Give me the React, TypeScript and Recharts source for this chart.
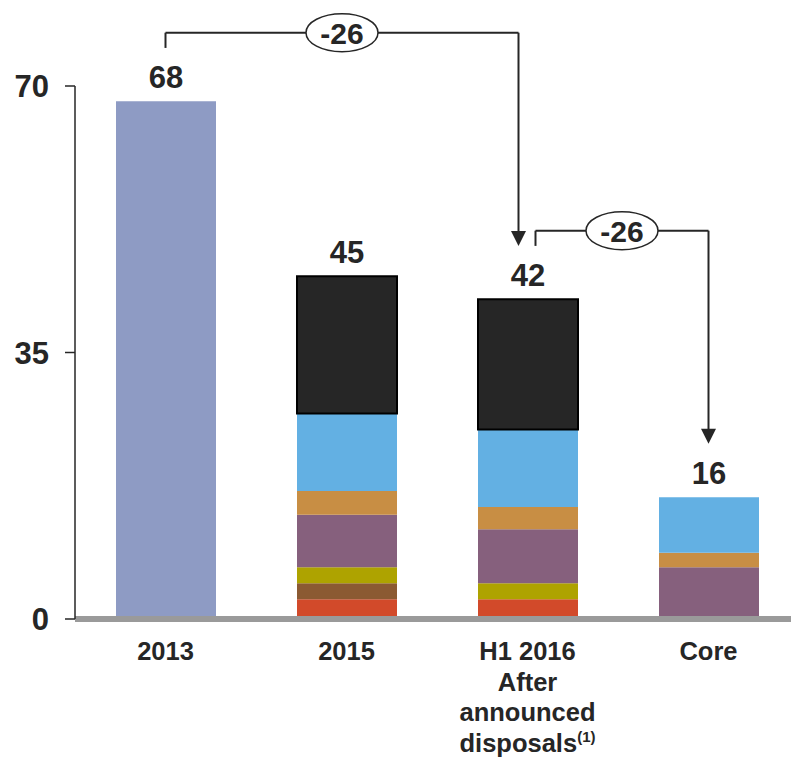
import React from 'react';
import { BarChart, Bar, XAxis, YAxis, ReferenceLine, LabelList } from 'recharts';

// Categories and stacked segment values (bottom to top)
const categories = ['2013', '2015', 'H1 2016', 'Core'];
const historic = [68, 0, 0, 0];
const segRed = [0, 2.6, 2.6, 0];
const segBrown = [0, 2.1, 0, 0];
const segOlive = [0, 2.1, 2.1, 0];
const segPurple = [0, 6.9, 7.1, 6.8];
const segTan = [0, 3.1, 2.9, 1.9];
const segBlue = [0, 10.2, 10.2, 7.3];
const segBlack = [0, 18.0, 17.1, 0];

const yTicks = [0, 35, 70];

// Multi-line category captions
const tickLines: string[][] = [
  ['2013'],
  ['2015'],
  ['H1 2016', 'After', 'announced', 'disposals'],
  ['Core'],
];
const tickNotes = ['', '', '(1)', ''];

// Bridges between category totals
const bridgeFrom = ['2013', 'H1 2016'];
const bridgeTo = ['H1 2016', 'Core'];

const FONT = '"Liberation Sans", Arial, Helvetica, sans-serif';
const INK = '#262626';

const series = [
  { key: 'historic', values: historic, fill: '#8E9BC4' },
  { key: 'red', values: segRed, fill: '#D24A2A' },
  { key: 'brown', values: segBrown, fill: '#8B5A32' },
  { key: 'olive', values: segOlive, fill: '#AEA300' },
  { key: 'purple', values: segPurple, fill: '#86607D' },
  { key: 'tan', values: segTan, fill: '#C88E44' },
  { key: 'blue', values: segBlue, fill: '#63B0E3' },
  { key: 'black', values: segBlack, fill: '#262626', stroke: '#000000' },
];

const totals = categories.map((_, i) =>
  series.reduce((sum, s) => sum + s.values[i], 0)
);

const topKeyAt = (i: number) => {
  for (let k = series.length - 1; k >= 0; k--) {
    if (series[k].values[i] > 0) return series[k].key;
  }
  return '';
};

// Each row carries its segment values plus the stack total on its top segment
const data = categories.map((name, i) => {
  const row: Record<string, any> = { name };
  const top = topKeyAt(i);
  series.forEach((s) => {
    row[s.key] = s.values[i];
    row[`${s.key}Total`] = s.key === top ? Math.round(totals[i]) : null;
  });
  return row;
});

// Gaps (in value units) between totals and bridge parts
const stemGap = 7;
const levelGap = 9;

const TotalLabel = (props: any) => {
  const { x, y, width, value } = props;
  if (value === null || value === undefined || value === '') return null;
  return (
    <text
      x={Number(x) + Number(width) / 2}
      y={Number(y) - 13}
      textAnchor="middle"
      fontSize={31}
      fontWeight="bold"
      fill={INK}
      fontFamily={FONT}
    >
      {value}
    </text>
  );
};

const CategoryTick = (props: any) => {
  const { x, y, payload } = props;
  const idx = categories.indexOf(payload.value);
  const lines = tickLines[idx] || [String(payload.value)];
  const note = tickNotes[idx];
  return (
    <text
      x={x}
      y={y + 41}
      textAnchor="middle"
      fontSize={25.5}
      fontWeight="bold"
      fill={INK}
      fontFamily={FONT}
    >
      {lines.map((ln, i) => (
        <tspan key={i} x={x} dy={i === 0 ? 0 : 30.5}>
          {ln}
          {i === lines.length - 1 && note ? (
            <tspan fontSize={15} dy={-10}>
              {note}
            </tspan>
          ) : null}
        </tspan>
      ))}
    </text>
  );
};

const SpanShape = (dxStart: number, dxEnd: number, text: string) => (props: any) => {
  const { x1, y1, x2 } = props;
  const a = Number(x1) + dxStart;
  const b = Number(x2) + dxEnd;
  const mid = (a + b) / 2;
  return (
    <g>
      <line x1={a} y1={y1} x2={b} y2={y1} stroke={INK} strokeWidth={2} />
      <ellipse cx={mid} cy={y1} rx={36} ry={19} fill="#ffffff" stroke={INK} strokeWidth={1.5} />
      <text
        x={mid}
        y={Number(y1) + 11}
        textAnchor="middle"
        fontSize={30}
        fontWeight="bold"
        fill={INK}
        fontFamily={FONT}
      >
        {text}
      </text>
    </g>
  );
};

const StemShape = (dx: number, arrow: boolean) => (props: any) => {
  const { x1, y1, x2, y2 } = props;
  const xa = Number(x1) + dx;
  const xb = Number(x2) + dx;
  const yb = Number(y2);
  const head = 15;
  return (
    <g>
      <line x1={xa} y1={y1} x2={xb} y2={arrow ? yb - head + 1 : yb} stroke={INK} strokeWidth={2} />
      {arrow ? (
        <polygon
          points={`${xb - 7.5},${yb - head} ${xb + 7.5},${yb - head} ${xb},${yb}`}
          fill={INK}
        />
      ) : null}
    </g>
  );
};

const bridgeOffsets = [
  { start: 0, end: -9 },
  { start: 8, end: 0 },
];

export default function App() {
  return (
    <div
      style={{
        position: 'absolute',
        left: 0,
        top: 0,
        width: 791,
        height: 763,
        background: '#ffffff',
        fontFamily: FONT,
      }}
    >
      <BarChart
        width={791}
        height={763}
        data={data}
        margin={{ top: 86, right: 0, bottom: 0, left: 0 }}
        barSize={100}
      >
        <XAxis
          dataKey="name"
          axisLine={false}
          tickLine={false}
          tickSize={0}
          tickMargin={0}
          interval={0}
          height={144}
          padding={{ left: 0, right: -8 }}
          tick={<CategoryTick />}
        />
        <YAxis
          type="number"
          domain={[0, 70]}
          ticks={yTicks}
          width={75}
          tickSize={10}
          tickMargin={16}
          axisLine={{ stroke: INK, strokeWidth: 1.5 }}
          tickLine={{ stroke: INK, strokeWidth: 1.5 }}
          tick={{ fontSize: 31, fontWeight: 'bold', fill: INK, fontFamily: FONT }}
        />
        {series.map((s) => (
          <Bar
            key={s.key}
            dataKey={s.key}
            stackId="a"
            fill={s.fill}
            stroke={s.stroke}
            strokeWidth={s.stroke ? 2 : 0}
            isAnimationActive={false}
          >
            <LabelList dataKey={`${s.key}Total`} content={<TotalLabel />} />
          </Bar>
        ))}
        <ReferenceLine y={0} stroke="#9A9A9A" strokeWidth={6} />
        {bridgeFrom.map((from, i) => {
          const to = bridgeTo[i];
          const fromTotal = totals[categories.indexOf(from)];
          const toTotal = totals[categories.indexOf(to)];
          const level = fromTotal + levelGap;
          const delta = Math.round(toTotal - fromTotal);
          const off = bridgeOffsets[i];
          return (
            <React.Fragment key={`bridge-${i}`}>
              <ReferenceLine
                ifOverflow="visible"
                segment={[
                  { x: from, y: fromTotal + stemGap },
                  { x: from, y: level },
                ]}
                shape={StemShape(off.start, false)}
              />
              <ReferenceLine
                ifOverflow="visible"
                segment={[
                  { x: to, y: level },
                  { x: to, y: toTotal + stemGap },
                ]}
                shape={StemShape(off.end, true)}
              />
              <ReferenceLine
                ifOverflow="visible"
                segment={[
                  { x: from, y: level },
                  { x: to, y: level },
                ]}
                shape={SpanShape(off.start, off.end, `${delta}`)}
              />
            </React.Fragment>
          );
        })}
      </BarChart>
    </div>
  );
}
